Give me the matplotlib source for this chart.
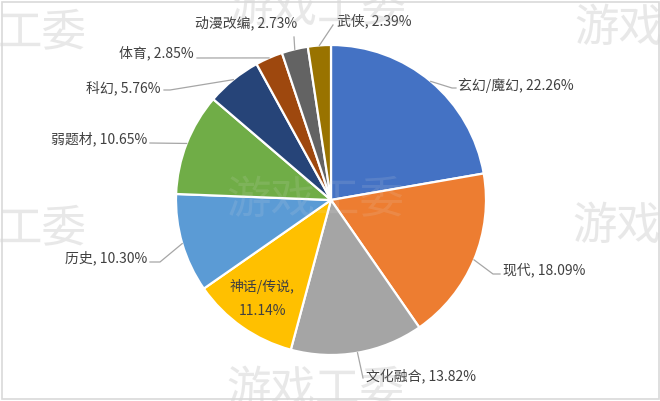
import numpy as np
import matplotlib
matplotlib.use("Agg")
import matplotlib.pyplot as plt
from matplotlib.patches import Rectangle

plt.rcParams['font.family'] = ['Noto Sans CJK SC', 'DejaVu Sans']

categories = ['玄幻/魔幻', '现代', '文化融合', '神话/传说', '历史', '弱题材', '科幻', '体育', '动漫改编', '武侠']
values = [22.26, 18.09, 13.82, 11.14, 10.30, 10.65, 5.76, 2.85, 2.73, 2.39]
colors = ['#4472C4', '#ED7D31', '#A5A5A5', '#FFC000', '#5B9BD5', '#70AD47',
          '#264478', '#9E480E', '#636363', '#997300']

W, H = 660, 401
fig = plt.figure(figsize=(6.6, 4.01), dpi=100)
ax = fig.add_axes([0, 0, 1, 1])

def Y(y):
    return H - y

cx, cy, R = 331, 200, 155
wedges, _ = ax.pie(values, colors=colors, startangle=90, counterclock=False,
                   center=(cx, Y(cy)), radius=R, frame=True,
                   wedgeprops=dict(edgecolor='white', linewidth=1.6, zorder=2))
ax.set_xlim(0, W)
ax.set_ylim(0, H)
ax.set_aspect('equal')
ax.axis('off')

txt_color = '#404040'
line_color = '#A6A6A6'
fs = 10

layout = {
    '玄幻/魔幻': (458, 85, 'left', [(452, 88), (456, 88)]),
    '现代': (503, 270, 'left', [(493, 274), (500, 274)]),
    '文化融合': (366, 376, 'left', [(363, 378)]),
    '历史': (147, 258, 'right', [(160, 262), (150, 262)]),
    '弱题材': (147, 139, 'right', [(150, 143)]),
    '科幻': (161, 88, 'right', [(170, 90), (164, 90)]),
    '体育': (194, 53, 'right', [(197, 58)]),
    '动漫改编': (297, 23, 'right', [(294, 37)]),
    '武侠': (337, 21, 'left', [(333, 25)]),
}

cum = np.cumsum([0] + values)
total = sum(values)
for i, (cat, v) in enumerate(zip(categories, values)):
    mid = 90 - (cum[i] + v / 2) / total * 360
    ex = cx + R * np.cos(np.radians(mid))
    ey = cy - R * np.sin(np.radians(mid))
    if cat in layout:
        tx, ty, ha, pts = layout[cat]
        xs = [ex] + [p[0] for p in pts]
        ys = [Y(ey)] + [Y(p[1]) for p in pts]
        ax.plot(xs, ys, color=line_color, lw=0.9, zorder=3)
        ax.text(tx, Y(ty), f'{cat}, {v:.2f}%', ha=ha, va='center',
                fontsize=fs, color=txt_color, zorder=4)
    else:
        ax.text(262, Y(286), f'{cat},', ha='center', va='center',
                fontsize=fs, color=txt_color, zorder=4)
        ax.text(262, Y(311), f'{v:.2f}%', ha='center', va='center',
                fontsize=fs, color=txt_color, zorder=4)

# watermarks: a solid one behind the chart, a faint one over it
wm_pos = [(228, 8, '游戏工委'), (-2, 32, '工委'), (574, 28, '游戏'),
          (226, 200, '游戏工委'), (-2, 228, '工委'), (572, 226, '游戏'),
          (226, 390, '游戏工委')]
for x, y, s in wm_pos:
    ax.text(x, Y(y), s, ha='left', va='center', fontsize=32,
            color='#EAEAEA', zorder=0.5)
    ax.text(x, Y(y), s, ha='left', va='center', fontsize=32,
            color='#E0E0E0', alpha=0.13, zorder=5)

ax.add_patch(Rectangle((1.5, Y(398.5)), W - 3, 397, fill=False,
                       edgecolor='#D9D9D9', lw=1.2, zorder=6))

fig.savefig('out.png', dpi=100)
